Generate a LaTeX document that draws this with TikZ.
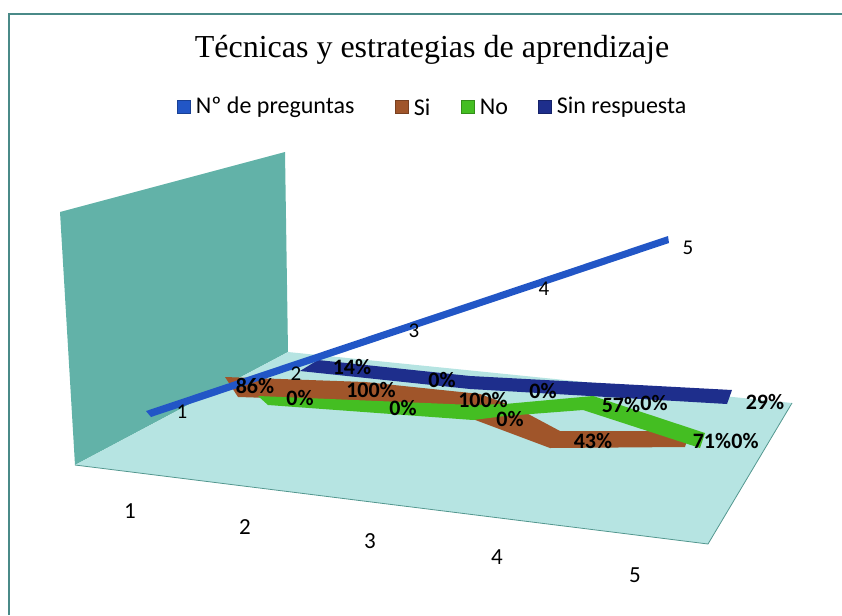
\documentclass[tikz,border=0pt]{standalone}
\usepackage{fontspec}
\setmainfont{Carlito}
\newfontfamily\titlefont{Liberation Serif}
\usetikzlibrary{positioning}

\definecolor{wallteal}{HTML}{62B2A8}
\definecolor{floorcyan}{HTML}{B6E4E2}
\definecolor{preguntas}{HTML}{2256C6}
\definecolor{si}{HTML}{A0552A}
\definecolor{no}{HTML}{44BE22}
\definecolor{sinresp}{HTML}{1E2E8C}
\definecolor{frameline}{HTML}{4A8A88}

\begin{document}
\begin{tikzpicture}[x=1pt,y=-1pt,inner sep=0pt,
	key/.style={minimum size=13pt,fill=#1,draw=#1!75!black},
	keytext/.style={font=\fontsize{24}{24}\selectfont},
	val/.style={font=\fontsize{22}{22}\selectfont\bfseries},
	num/.style={font=\fontsize{21}{21}\selectfont},
	cat/.style={font=\fontsize{23}{23}\selectfont}]
		\useasboundingbox (0,0) rectangle (842,615);
		\draw[frameline,line width=1.5pt] (9,615) -- (9,14) -- (842,14);
		\node[font=\titlefont\fontsize{32}{32}\selectfont] (title) at (432,50) {Técnicas y estrategias de aprendizaje};
		% legend
		\node[key=preguntas] (keyPreg) at (184,107) {};
		\node[keytext,right=5pt of keyPreg] (txtPreg) {Nº de preguntas};
		\node[key=si] (keySi) at (402,107) {};
		\node[keytext,right=5pt of keySi] (txtSi) {Si};
		\node[key=no] (keyNo) at (468,107) {};
		\node[keytext,right=5pt of keyNo] (txtNo) {No};
		\node[key=sinresp] (keySin) at (545,107) {};
		\node[keytext,right=5pt of keySin] (txtSin) {Sin respuesta};
		% wall and floor
		\fill[wallteal] (60,212) -- (285,152) -- (288,352) -- (75,465) -- cycle;
		\fill[floorcyan] (288,352) -- (792,403) -- (708,544) -- (75,465) -- cycle;
		\draw[wallteal!85!black,line width=0.8pt] (75,465) -- (708,544) -- (792,403);
		% series
		\fill[sinresp] (300,371) -- (318,360) -- (470,376) -- (732,390) -- (727,404) -- (470,389) -- cycle;
		\fill[si] (225,377) -- (365,382) -- (480,394) -- (515,407) -- (560,431) -- (690,431) -- (685,447) -- (550,448) -- (470,418) -- (365,401) -- (238,397) -- cycle;
		\fill[no] (258,396) -- (473,405) -- (505,404) -- (593,396) -- (705,433) -- (700,448) -- (583,410) -- (505,416) -- (473,420) -- (268,405) -- cycle;
		\fill[preguntas] (146,411) -- (668,236) -- (669,243) -- (151,417) -- cycle;
		% labels
		\node[num] (preg1) at (182,412) {1};
		\node[num] (preg2) at (296,374) {2};
		\node[num] (preg3) at (414,331) {3};
		\node[num] (preg4) at (544,289) {4};
		\node[num] (preg5) at (688,248) {5};
		\node[val] (si1) at (255,386) {86\%};
		\node[val] (si2) at (371,390) {100\%};
		\node[val] (si3) at (483,400) {100\%};
		\node[val] (si4) at (593,441) {43\%};
		\node[val] (si5) at (712,441) {71\%};
		\node[val] (no1) at (300,398) {0\%};
		\node[val] (no2) at (403,408) {0\%};
		\node[val] (no3) at (510,419) {0\%};
		\node[val] (no4) at (621,405) {57\%};
		\node[val] (no5) at (745,441) {0\%};
		\node[val] (sin1) at (352,367) {14\%};
		\node[val] (sin2) at (442,380) {0\%};
		\node[val] (sin3) at (543,391) {0\%};
		\node[val] (sin4) at (654,403) {0\%};
		\node[val] (sin5) at (765,402) {29\%};
		% axis
		\node[cat] (cat1) at (130,511) {1};
		\node[cat] (cat2) at (245,527) {2};
		\node[cat] (cat3) at (370,541) {3};
		\node[cat] (cat4) at (497,557) {4};
		\node[cat] (cat5) at (635,575) {5};
	\end{tikzpicture}
\end{document}
